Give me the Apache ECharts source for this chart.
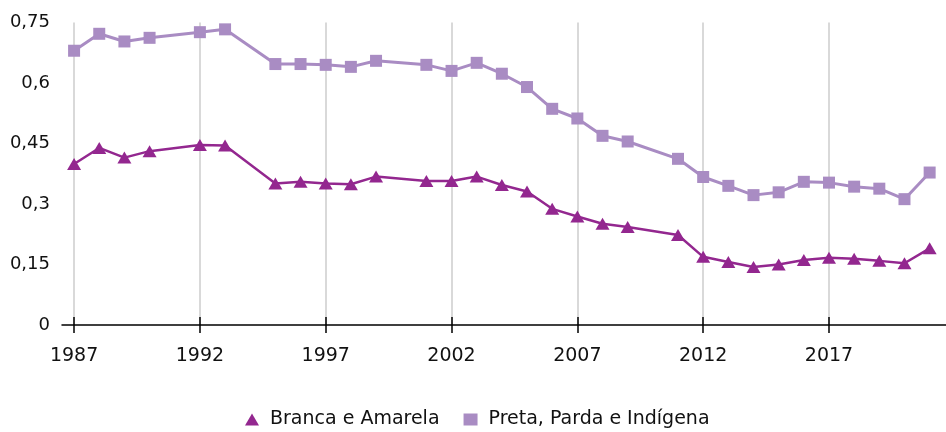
<!DOCTYPE html>
<html>
<head>
<meta charset="utf-8">
<script src="https://cdn.jsdelivr.net/npm/echarts@6/dist/echarts.min.js"></script>
<style>
  html, body { margin: 0; padding: 0; background: #fff; }
  #chart { width: 946px; height: 432px; }
</style>
</head>
<body>
<div id="chart"></div>
<script>
// anos com dados (faltam 1991, 1994, 2000, 2010)
const years = [1987, 1988, 1989, 1990, 1992, 1993, 1995, 1996, 1997, 1998, 1999,
  2001, 2002, 2003, 2004, 2005, 2006, 2007, 2008, 2009, 2011, 2012, 2013, 2014,
  2015, 2016, 2017, 2018, 2019, 2020, 2021]
const branca = [0.399, 0.439, 0.415, 0.431, 0.446, 0.445, 0.351, 0.355, 0.351, 0.349, 0.368,
  0.357, 0.357, 0.368, 0.347, 0.331, 0.288, 0.269, 0.251, 0.243, 0.223, 0.169, 0.156, 0.144,
  0.150, 0.161, 0.167, 0.164, 0.159, 0.153, 0.190]
const preta = [0.680, 0.722, 0.703, 0.712, 0.726, 0.733, 0.647, 0.647, 0.645, 0.640, 0.655,
  0.645, 0.630, 0.650, 0.623, 0.590, 0.536, 0.512, 0.469, 0.455, 0.412, 0.367, 0.345, 0.322,
  0.329, 0.355, 0.353, 0.343, 0.338, 0.312, 0.378]
const xTicks = [1987, 1992, 1997, 2002, 2007, 2012, 2017]
const seriesNames = ['Branca e Amarela', 'Preta, Parda e Indígena']

const chart = echarts.init(document.getElementById('chart'))

const pairs = (vals) => years.map((y, i) => [y, vals[i]])
const font = 'DejaVu Sans'

const option = {
  animation: false,
  grid: { left: 62, right: 0, top: 22.5, bottom: 107, containLabel: false },
  legend: {
    top: 410,
    left: 245,
    padding: 0,
    itemWidth: 14,
    itemHeight: 12,
    itemGap: 24,
    textStyle: { fontFamily: font, fontSize: 19, color: '#111', padding: [0, 0, 0, 6] },
    data: [
      { name: seriesNames[0], icon: 'triangle' },
      { name: seriesNames[1], icon: 'rect', itemStyle: { color: '#a98cc3' } }
    ]
  },
  xAxis: [
    {
      type: 'value',
      position: 'bottom',
      min: 1986.52,
      max: 2021.65,
      axisLine: { onZero: false, lineStyle: { color: '#000', width: 1.5 } },
      axisTick: { show: true, length: 8, customValues: xTicks, lineStyle: { color: '#000', width: 1.5 } },
      axisLabel: {
        customValues: xTicks,
        margin: 22,
        color: '#111',
        fontFamily: font,
        fontSize: 19,
        formatter: (v) => String(v)
      },
      splitLine: { show: true, lineStyle: { color: '#cccccc', width: 1.5 } }
    },
    {
      type: 'value',
      position: 'bottom',
      min: 1986.52,
      max: 2021.65,
      axisLine: { show: false },
      axisTick: { show: true, inside: true, length: 8, customValues: xTicks, lineStyle: { color: '#000', width: 1.5 } },
      axisLabel: { show: false },
      splitLine: { show: false }
    }
  ],
  yAxis: {
    type: 'value',
    min: 0,
    max: 0.75,
    interval: 0.15,
    axisLine: { show: false },
    axisTick: { show: false },
    splitLine: { show: false },
    axisLabel: {
      margin: 12,
      color: '#111',
      fontFamily: font,
      fontSize: 18,
      formatter: (v) => String(Math.round(v * 100) / 100).replace('.', ',')
    }
  },
  series: [
    {
      name: seriesNames[0],
      type: 'line',
      data: pairs(branca),
      symbol: 'triangle',
      symbolSize: [14, 12],
      showAllSymbol: true,
      itemStyle: { color: '#93278f' },
      lineStyle: { color: '#93278f', width: 2.5 },
      z: 3
    },
    {
      name: seriesNames[1],
      type: 'line',
      data: pairs(preta),
      symbol: 'rect',
      symbolSize: 12,
      showAllSymbol: true,
      itemStyle: { color: '#a98cc3' },
      lineStyle: { color: '#a98cc3', width: 3 },
      z: 2
    }
  ]
}

chart.setOption(option)
</script>
</body>
</html>
